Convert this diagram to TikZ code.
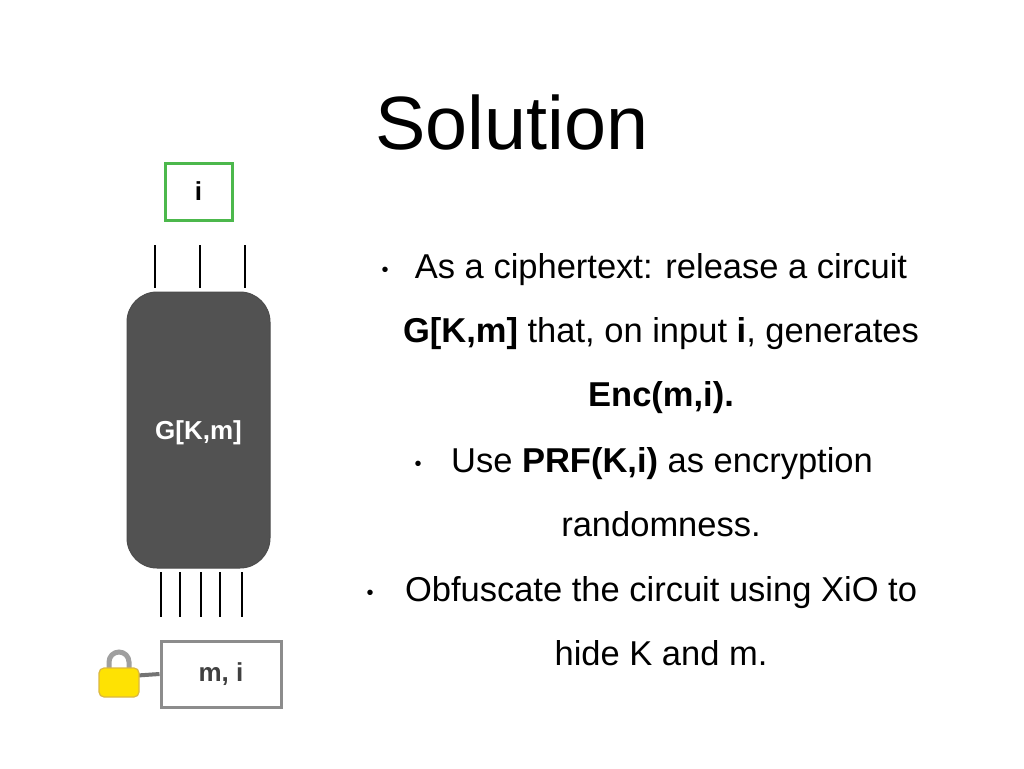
\documentclass[tikz,border=0pt]{standalone}
\usepackage{fontspec}
\setmainfont{Liberation Sans}
\usetikzlibrary{positioning}
\tikzset{
  wire/.style={line width=1.2pt},
  txt/.style={font=\fontsize{34.5}{40}\selectfont, inner sep=0pt, anchor=base},
  dot/.style={font=\fontsize{20}{22}\selectfont, inner sep=0pt, anchor=base}
}
\begin{document}
\begin{tikzpicture}[x=1pt,y=-1pt]
\useasboundingbox (0,0) rectangle (1024,768);
\fill[white] (0,0) rectangle (1024,768);
\node[font=\fontsize{75.5}{86}\selectfont, inner sep=0pt, anchor=base] (title) at (512,149) {Solution};

% circuit
\node[draw=black!70, fill=black!68, line width=1pt, rounded corners=30pt, minimum width=143pt, minimum height=276pt] (G) at (198.5,430) {};
\node[text=white, font=\bfseries\fontsize{26}{30}\selectfont] (Glab) at (198.5,433) {G[K,m]};
\node[draw=green!60!black!70!white, line width=3pt, minimum width=67pt, minimum height=57pt, font=\bfseries\fontsize{26}{30}\selectfont] (in) at (198.5,191.5) {i};
\foreach \x in {155,200,245} \draw[wire] (\x,245) -- (\x,288);
\foreach \x in {161,180,201,220,242} \draw[wire] (\x,572) -- (\x,617);
\node[draw=black!45, line width=3pt, minimum width=120pt, minimum height=66pt, text=black!75, font=\bfseries\fontsize{26}{30}\selectfont] (mi) at (221,674) {m, i};
% lock
\coordinate (lk) at (130,676);
\draw[black!55, line width=4pt] (lk) -- (mi.west);
\draw[gray!75, line width=5pt] (109,672) -- (109,662) arc (180:360:10) -- (129,672);
\draw[yellow!40!brown, line width=1.2pt, fill=yellow!85!orange, rounded corners=5pt] (99,668) rectangle (139,697);

% text
\node[dot] (b1) at (385,276) {\textbullet};
\node[txt] (l1) at (661,278) {As a ciphertext: release a circuit};
\node[txt] (l2) at (661,342) {\textbf{G[K,m]} that, on input \textbf{i}, generates};
\node[txt] (l3) at (661,406) {\textbf{Enc(m,i).}};
\node[dot] (b2) at (418,470) {\textbullet};
\node[txt] (l4) at (662,472) {Use \textbf{PRF(K,i)} as encryption};
\node[txt] (l5) at (661,536) {randomness.};
\node[dot] (b3) at (370,599) {\textbullet};
\node[txt] (l6) at (661,601) {Obfuscate the circuit using XiO to};
\node[txt] (l7) at (661,665) {hide K and m.};
\end{tikzpicture}
\end{document}
